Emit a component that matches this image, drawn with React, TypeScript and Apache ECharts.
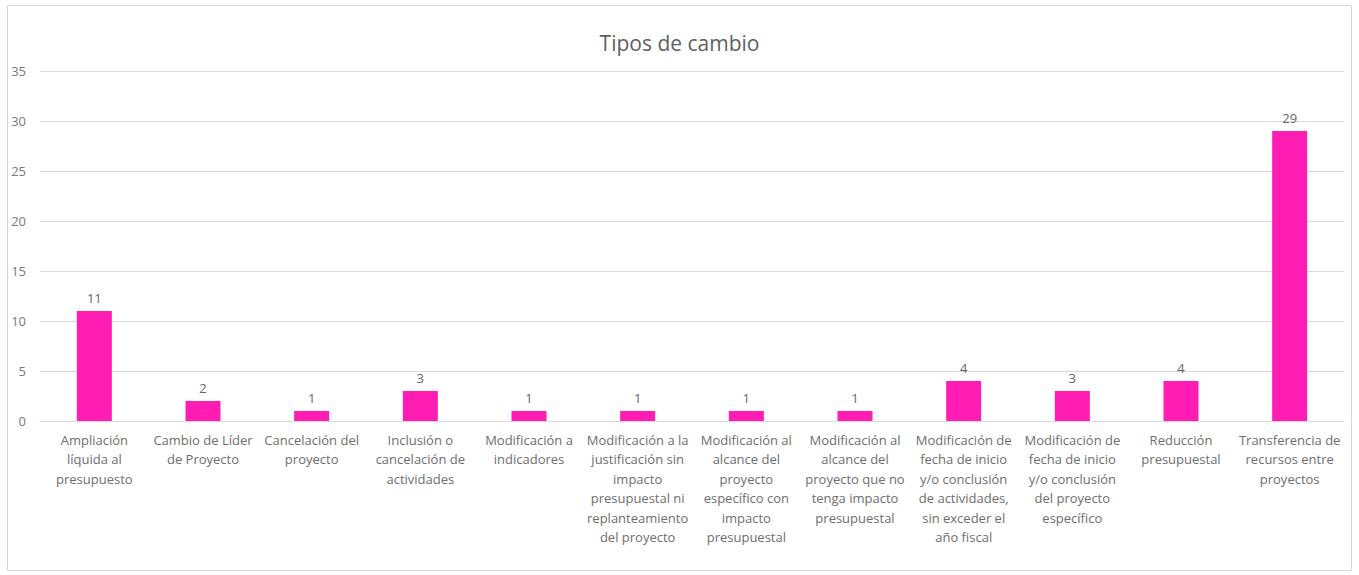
import React, { useEffect, useRef } from "react";
import * as echarts from "echarts";

const titleText = "Tipos de cambio";
const categories = [
  "Ampliación\nlíquida al\npresupuesto",
  "Cambio de Líder\nde Proyecto",
  "Cancelación del\nproyecto",
  "Inclusión o\ncancelación de\nactividades",
  "Modificación a\nindicadores",
  "Modificación a la\njustificación sin\nimpacto\npresupuestal ni\nreplanteamiento\ndel proyecto",
  "Modificación al\nalcance del\nproyecto\nespecífico con\nimpacto\npresupuestal",
  "Modificación al\nalcance del\nproyecto que no\ntenga impacto\npresupuestal",
  "Modificación de\nfecha de inicio\ny/o conclusión\nde actividades,\nsin exceder el\naño fiscal",
  "Modificación de\nfecha de inicio\ny/o conclusión\ndel proyecto\nespecífico",
  "Reducción\npresupuestal",
  "Transferencia de\nrecursos entre\nproyectos",
];
const values = [11, 2, 1, 3, 1, 1, 1, 1, 4, 3, 4, 29];

export default function App() {
  const ref = useRef<HTMLDivElement>(null);
  useEffect(() => {
    const chart = echarts.init(ref.current!, undefined, { renderer: "svg" });
    const font = "'Open Sans', 'Noto Sans', sans-serif";
    chart.setOption({
      animation: false,
      backgroundColor: "#ffffff",
      textStyle: { fontFamily: font },
      title: {
        text: titleText,
        left: "center",
        top: 27,
        textStyle: { fontSize: 21, fontWeight: "normal", color: "#5f5f5f", fontFamily: font },
      },
      graphic: [
        {
          type: "rect",
          shape: { x: 7.5, y: 5.5, width: 1344, height: 565 },
          style: { fill: "none", stroke: "#d9d9d9", lineWidth: 1 },
          silent: true,
        },
      ],
      grid: { left: 40, right: 15, top: 71, bottom: 154 },
      xAxis: {
        type: "category",
        data: categories,
        axisLine: { lineStyle: { color: "#d9d9d9" } },
        axisTick: { show: false },
        axisLabel: {
          interval: 0,
          color: "#6e6e6e",
          fontSize: 13,
          lineHeight: 19.5,
          margin: 9,
          fontFamily: font,
        },
      },
      yAxis: {
        type: "value",
        min: 0,
        max: 35,
        interval: 5,
        axisLine: { show: false },
        axisTick: { show: false },
        splitLine: { lineStyle: { color: "#d9d9d9" } },
        axisLabel: { color: "#7a7a7a", fontSize: 13, margin: 14, fontFamily: font },
      },
      series: [
        {
          type: "bar",
          data: values,
          barWidth: 35,
          itemStyle: { color: "#FF1DB4" },
          label: {
            show: true,
            position: "top",
            distance: 7,
            color: "#666666",
            fontSize: 13,
            fontFamily: font,
          },
        },
      ],
    });
    return () => chart.dispose();
  }, []);
  return (
    <div
      ref={ref}
      style={{ position: "fixed", left: 0, top: 0, width: 1359, height: 575 }}
    />
  );
}
